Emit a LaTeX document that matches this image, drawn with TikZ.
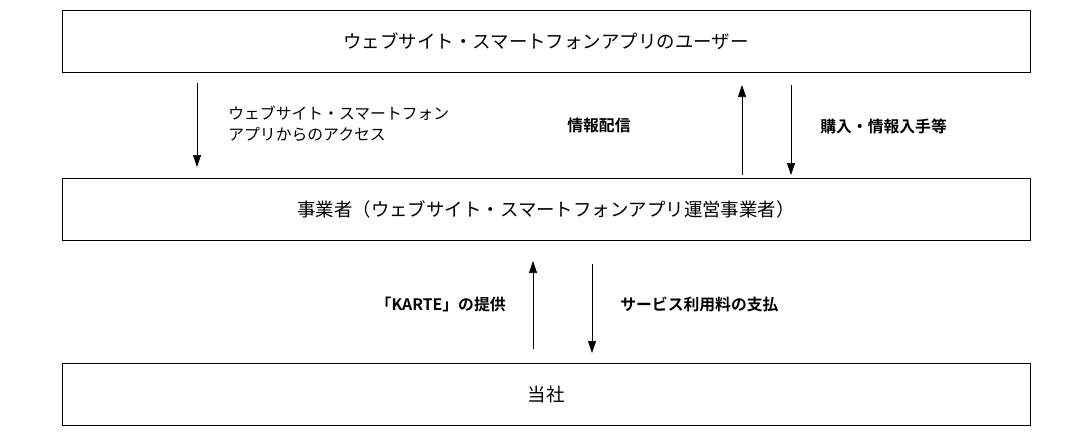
\documentclass[tikz,border=0pt]{standalone}
\usepackage{fontspec}
\usetikzlibrary{arrows.meta}
\newfontfamily\jp{Noto Sans CJK JP}
\newfontfamily\jpb{Noto Sans CJK JP Bold}
\begin{document}
\begin{tikzpicture}[x=0.02cm,y=-0.02cm,>={Triangle[length=2.4mm,width=1.6mm]},
        box/.style={draw,minimum width=19.36cm,minimum height=1.24cm,inner sep=0pt,font=\jp\fontsize{10.5}{12}\selectfont},
        lbl/.style={font=\jpb\fontsize{9}{11}\selectfont,inner sep=0pt},
        txt/.style={font=\jp\fontsize{9}{12}\selectfont,align=left,inner sep=0pt}]
\useasboundingbox (0,0) rectangle (1091,443);

\node[box] (user) at (546,41) {ウェブサイト・スマートフォンアプリのユーザー};
\node[box] (biz) at (546,209) {事業者（ウェブサイト・スマートフォンアプリ運営事業者）};
\node[box] (self) at (546,394) {当社};

% upper arrows
\coordinate (a1) at (197,83);  \coordinate (a2) at (197,167);
\coordinate (b1) at (742,175); \coordinate (b2) at (742,85);
\coordinate (c1) at (791,85);  \coordinate (c2) at (791,175);
\draw[->] (a1) -- (a2);
\draw[->] (b1) -- (b2);
\draw[->] (c1) -- (c2);
\node[txt,anchor=west] (acc) at (228,124) {ウェブサイト・スマートフォン\\アプリからのアクセス};
\node[lbl,anchor=west] (info) at (567,126) {情報配信};
\node[lbl,anchor=west] (buy) at (820,126) {購入・情報入手等};

% lower arrows
\coordinate (d1) at (533,349); \coordinate (d2) at (533,261);
\coordinate (e1) at (592,264); \coordinate (e2) at (592,353);
\draw[->] (d1) -- (d2);
\draw[->] (e1) -- (e2);
\node[lbl,anchor=east] (karte) at (506,304) {「KARTE」の提供};
\node[lbl,anchor=west] (pay) at (620,304) {サービス利用料の支払};
\end{tikzpicture}
\end{document}
